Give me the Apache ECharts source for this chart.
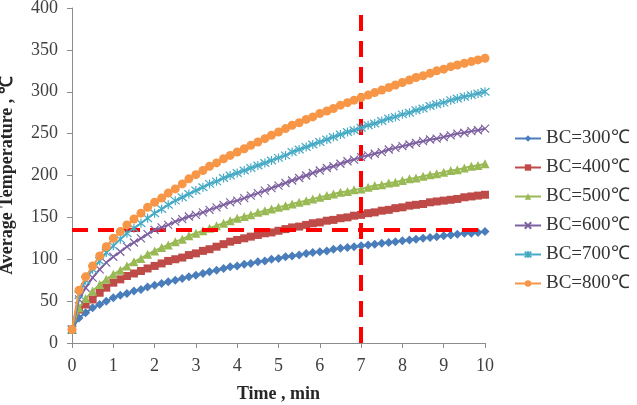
<!DOCTYPE html>
<html>
<head>
<meta charset="utf-8">
<script src="https://cdn.jsdelivr.net/npm/echarts@6/dist/echarts.min.js"></script>
<style>
html,body{margin:0;padding:0;background:#fff;}
#container{width:637px;height:405px;}
</style>
</head>
<body>
<div id="container"></div>
<script>
//时间（min），每10秒一个点
var times = [0,0.17,0.33,0.5,0.67,0.83,1,1.17,1.33,1.5,1.67,1.83,2,2.17,2.33,2.5,2.67,2.83,3,3.17,3.33,3.5,3.67,3.83,4,
	4.17,4.33,4.5,4.67,4.83,5,5.17,5.33,5.5,5.67,5.83,6,6.17,6.33,6.5,6.67,6.83,7,7.17,7.33,7.5,7.67,7.83,8,
	8.17,8.33,8.5,8.67,8.83,9,9.17,9.33,9.5,9.67,9.83,10];

var names = ['BC=300℃','BC=400℃','BC=500℃','BC=600℃','BC=700℃','BC=800℃'];

var bc300 = [16,30,36,42,46,50,54,57,59,62,64,67,69,71,73,75,77,79,81,83,85,87,89,91,92,
	94,95,97,98,100,101,103,104,105,107,108,109,110,112,113,114,115,116,117,118,119,120,121,122,
	123,124,125,126,127,128,129,130,131,131,132,133];
var bc400 = [16,40,46,52,60,66,72,76,80,83,86,89,92,95,98,100,102,105,107,110,112,115,118,121,123,
	125,127,129,131,132,134,136,138,139,141,143,144,146,147,149,150,152,153,155,156,158,159,161,162,
	164,165,166,168,169,170,171,172,174,175,176,177];
var bc500 = [16,42,53,62,70,76,82,87,92,97,101,106,110,114,117,121,124,128,131,134,137,140,143,146,149,
	151,153,156,158,160,162,164,166,168,170,172,174,176,178,180,181,183,184,186,188,189,191,192,194,
	196,197,199,201,202,204,206,207,209,211,212,214];
var bc600 = [16,52,66,78,88,96,103,109,115,120,125,130,135,138,141,145,148,151,153,156,159,162,165,168,170,
	173,176,179,182,185,188,191,194,197,200,203,206,209,211,214,217,219,222,224,226,228,231,233,235,
	237,239,241,243,244,246,248,250,251,253,254,256];
var bc700 = [16,57,75,88,98,108,116,124,131,137,143,149,155,160,165,170,174,178,182,186,190,193,197,200,203,
	206,209,212,215,218,221,224,228,231,234,237,240,243,246,249,252,254,257,260,262,265,268,270,273,
	275,278,280,283,285,287,290,292,294,296,298,300];
var bc800 = [16,63,79,92,104,115,125,133,141,148,155,162,168,173,179,184,190,196,201,206,211,215,220,224,228,
	232,236,240,244,248,252,256,260,263,267,270,274,277,280,284,287,290,293,296,299,302,305,308,311,
	314,317,319,322,325,327,330,332,334,336,338,340];

//红色虚线位置
var limitTime = 7;
var limitTemp = 135;

var colors = ['#4a7ebb','#be4b48','#98b954','#7d60a0','#46aac5','#f79646'];
var symbols = ['diamond','rect','triangle',
	'path://M0,0L10,10M10,0L0,10',
	'path://M0,0L10,10M10,0L0,10M5,-1L5,11',
	'circle'];
var sizes = [9,8,9,8,9,9];
var allData = [bc300,bc400,bc500,bc600,bc700,bc800];

function pairs(arr){
	return arr.map(function(v,i){ return [times[i],v]; });
}

var serif = 'Liberation Serif';
var dom = document.getElementById("container");
var myChart = echarts.init(dom);

var series = allData.map(function(arr,i){
	var s = {
		name: names[i],
		type: 'line',
		data: pairs(arr),
		symbol: symbols[i],
		symbolSize: sizes[i],
		showAllSymbol: true,
		lineStyle: {color: colors[i], width: 2},
		itemStyle: {color: colors[i]},
		z: 2 + i
	};
	if(i==3 || i==4){
		s.itemStyle = {color: colors[i], borderColor: colors[i], borderWidth: 1.2};
	}
	return s;
});

//两条红色虚线
series.push({
	name: 'limit',
	type: 'line',
	data: [],
	z: 20,
	markLine: {
		silent: true,
		symbol: 'none',
		label: {show: false},
		lineStyle: {color: '#ff0000', width: 4, type: [16,10]},
		data: [{xAxis: limitTime}, {yAxis: limitTemp}]
	}
});

var option = {
	animation: false,
	backgroundColor: '#fff',
	grid: {left: 72, right: 152, top: 8, bottom: 62, outerBoundsMode: 'none', containLabel: false},
	legend: {
		orient: 'vertical',
		left: 509,
		top: 124,
		itemWidth: 26,
		itemHeight: 8,
		itemGap: 10,
		data: names,
		textStyle: {fontFamily: serif, fontSize: 19, color: '#333'}
	},
	xAxis: {
		type: 'value',
		min: 0, max: 10, interval: 1,
		name: 'Time , min',
		nameLocation: 'middle',
		nameGap: 42,
		nameTextStyle: {fontFamily: serif, fontSize: 18, fontWeight: 'bold', color: '#262626'},
		axisLine: {lineStyle: {color: '#8c8c8c', width: 1}},
		axisTick: {show: true, length: 5, lineStyle: {color: '#8c8c8c'}},
		axisLabel: {fontFamily: serif, fontSize: 18, color: '#404040', margin: 14},
		splitLine: {show: false}
	},
	yAxis: {
		type: 'value',
		min: 0, max: 400, interval: 50,
		name: 'Average Temperature , ℃',
		nameLocation: 'middle',
		nameGap: 56,
		nameTextStyle: {fontFamily: serif, fontSize: 18, fontWeight: 'bold', color: '#262626'},
		axisLine: {show: true, lineStyle: {color: '#8c8c8c', width: 1}},
		axisTick: {show: true, length: 5, lineStyle: {color: '#8c8c8c'}},
		axisLabel: {fontFamily: serif, fontSize: 18, color: '#404040', margin: 14},
		splitLine: {show: false}
	},
	series: series
};

myChart.setOption(option, true);
</script>
</body>
</html>
